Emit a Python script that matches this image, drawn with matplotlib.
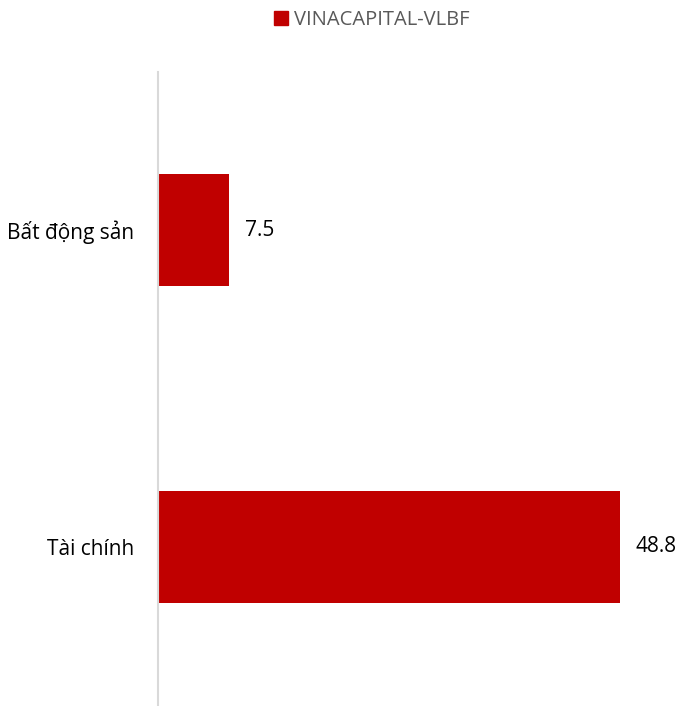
import matplotlib
matplotlib.use("Agg")
import matplotlib.pyplot as plt
from matplotlib.patches import Patch

categories = ["Tài chính", "Bất động sản"]
values = [48.8, 7.5]
series_name = "VINACAPITAL-VLBF"
color = "#C00000"

plt.rcParams['font.family'] = ['Open Sans', 'DejaVu Sans']

fig = plt.figure(figsize=(6.78, 7.06), dpi=100)
ax = fig.add_axes([158/678, 1/706, 502/678, 633/706])
ypos = list(range(len(categories)))
bars = ax.barh(ypos, values, height=0.353, color=color, label=series_name)
ax.set_xlim(0, 53.03)
ax.set_ylim(-0.5, 1.5)
ax.set_yticks(ypos)
ax.set_yticklabels(categories, fontsize=15, color="#000000")
ax.tick_params(axis='y', length=0, pad=17)
ax.set_xticks([])
for s in ["top", "right", "bottom"]:
    ax.spines[s].set_visible(False)
ax.spines["left"].set_color("#D9D9D9")
ax.spines["left"].set_linewidth(1.5)
for b, v in zip(bars, values):
    ax.annotate(f"{v}", (b.get_width(), b.get_y() + b.get_height()/2),
                xytext=(16, 0), textcoords="offset pixels",
                va="center", ha="left", fontsize=15, color="#000000")
fig.legend(handles=[Patch(color=color, label=series_name)], loc="center",
           bbox_to_anchor=(0.549, 1 - 20/706), frameon=False, fontsize=14.5,
           labelcolor="#595959", handlelength=0.7, handleheight=0.7, handletextpad=0.3)
fig.savefig("out.png", dpi=100)
